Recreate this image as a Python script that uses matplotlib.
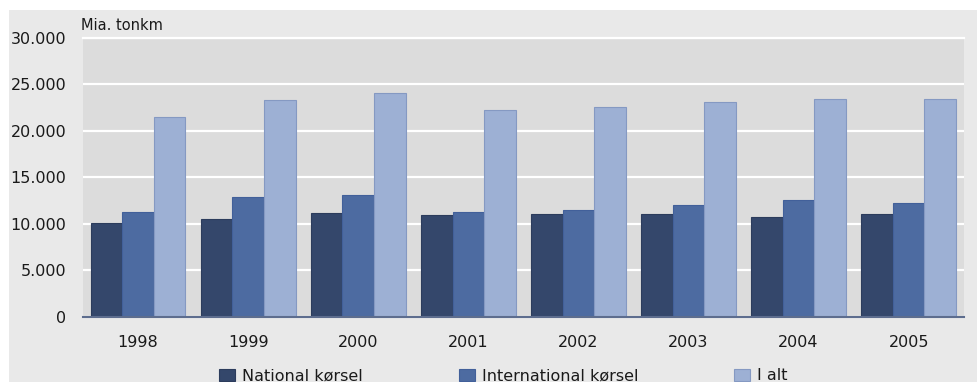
import matplotlib.pyplot as plt
from matplotlib.patches import Rectangle
from matplotlib.ticker import FuncFormatter
import numpy as np

# Values (mia. tonkm)
years = ['1998', '1999', '2000', '2001', '2002', '2003', '2004', '2005']
national = [10100, 10500, 11100, 10950, 11050, 11050, 10680, 11050]
international = [11300, 12900, 13120, 11300, 11500, 12050, 12570, 12260]
total = [21440, 23300, 24080, 22190, 22500, 23050, 23370, 23370]

series_names = ['National kørsel', 'International kørsel', 'I alt']
colors = ['#34476b', '#4d6ba1', '#9db0d4']
edges = ['#2c3c5c', '#42609a', '#8599c2']

fig = plt.figure(figsize=(9.78, 3.82), dpi=100)
fig.patch.set_facecolor('white')

# light grey panel behind the whole chart
fig.patches.append(Rectangle((9 / 978, 0), 1, 1 - 10 / 382, transform=fig.transFigure,
                             facecolor='#e9e9e9', edgecolor='none', zorder=-10))

ax = fig.add_axes([83 / 978, 1 - 316.7 / 382, (963.7 - 83) / 978, (316.7 - 37.7) / 382])
ax.set_facecolor('#dcdcdc')

x = np.arange(len(years))
w = 0.287
for i, vals in enumerate([national, international, total]):
    ax.bar(x + (i - 1) * w, vals, w, color=colors[i], edgecolor=edges[i],
           linewidth=0.8, label=series_names[i], zorder=3)

ax.set_xlim(-0.5, len(years) - 0.5)
ax.set_ylim(0, 30000)
ax.set_yticks(range(0, 30001, 5000))
ax.yaxis.set_major_formatter(FuncFormatter(lambda v, p: f'{int(v):,}'.replace(',', '.')))
ax.set_xticks(x)
ax.set_xticklabels(years)

ax.grid(axis='y', color='white', linewidth=1.6, zorder=1)
ax.set_axisbelow(True)
for s in ['left', 'right']:
    ax.spines[s].set_visible(False)
ax.spines['top'].set_color('white')
ax.spines['top'].set_linewidth(1.6)
ax.spines['bottom'].set_color('#5d6d8e')
ax.spines['bottom'].set_linewidth(1.5)
ax.spines['bottom'].set_zorder(4)

ax.tick_params(axis='y', length=0, pad=12, labelsize=11.5, labelcolor='#1a1a1a')
ax.tick_params(axis='x', length=0, pad=13, labelsize=11.5, labelcolor='#1a1a1a')

fig.text(81 / 978, 1 - 26 / 382, 'Mia. tonkm', fontsize=10.5, color='#1a1a1a',
         ha='left', va='center')

fig.legend(loc='center left', bbox_to_anchor=(219 / 978, 1 - 376 / 382), ncol=3,
           frameon=False, fontsize=11.5, handlelength=1.0, handleheight=0.75,
           handletextpad=0.45, columnspacing=6.0, borderpad=0, borderaxespad=0,
           labelcolor='#1a1a1a')

fig.savefig('out.png', dpi=100)
